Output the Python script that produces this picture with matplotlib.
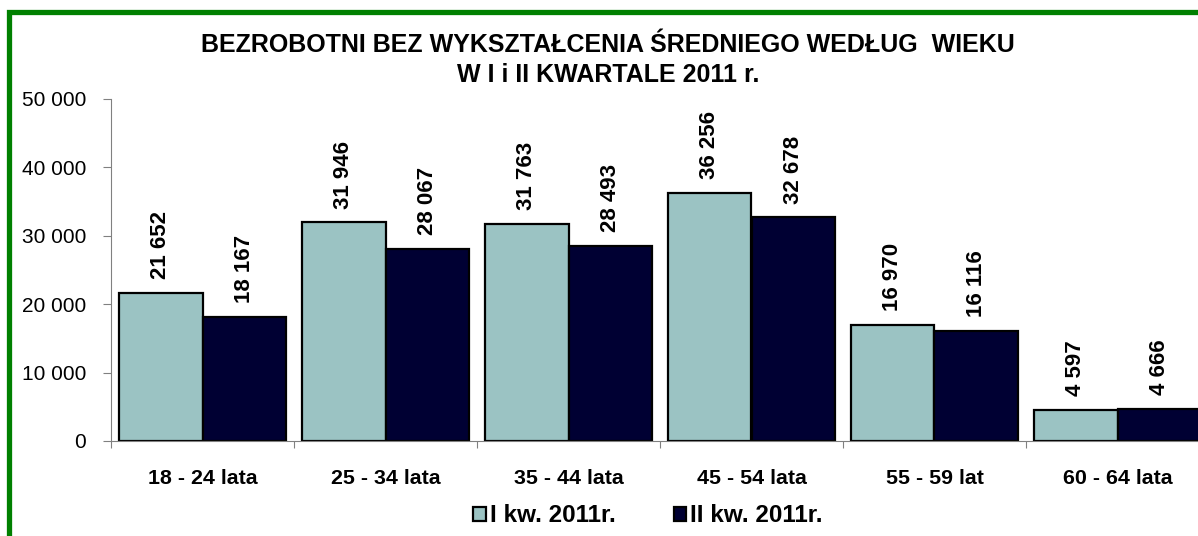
import matplotlib.pyplot as plt
import numpy as np
from matplotlib.patches import Rectangle
from matplotlib.ticker import FuncFormatter, MultipleLocator

plt.rcParams["font.family"] = ["Liberation Sans", "DejaVu Sans"]

categories = ["18 - 24 lata", "25 - 34 lata", "35 - 44 lata",
              "45 - 54 lata", "55 - 59 lat", "60 - 64 lata"]
q1_values = [21652, 31946, 31763, 36256, 16970, 4597]
q2_values = [18167, 28067, 28493, 32678, 16116, 4666]
series_names = ["I kw. 2011r.", "II kw. 2011r."]
title_lines = ["BEZROBOTNI BEZ WYKSZTAŁCENIA ŚREDNIEGO WEDŁUG  WIEKU",
               "W I i II KWARTALE 2011 r."]

light = "#9BC3C3"
dark = "#000033"

W, H = 1198, 536
fig = plt.figure(figsize=(W / 100, H / 100), dpi=100)
ax = fig.add_axes([111 / W, 1 - 441 / H, 1098 / W, 342 / H])

x = np.arange(len(categories))
bw = 0.456
b1 = ax.bar(x - bw / 2, q1_values, bw, color=light, edgecolor="black", linewidth=1.6,
            label=series_names[0])
b2 = ax.bar(x + bw / 2, q2_values, bw, color=dark, edgecolor="black", linewidth=1.6,
            label=series_names[1])


def fmt(v, _=None):
    return f"{int(v):,}".replace(",", " ")


for bars in (b1, b2):
    for rect in bars:
        ax.annotate(fmt(rect.get_height()),
                    (rect.get_x() + rect.get_width() / 2, rect.get_height()),
                    xytext=(0, 10), textcoords="offset points",
                    rotation=90, ha="center", va="bottom",
                    fontsize=16, fontweight="bold")

ax.set_xlim(-0.5, len(categories) - 0.5)
ax.set_ylim(0, 50000)
ax.yaxis.set_major_locator(MultipleLocator(10000))
ax.yaxis.set_major_formatter(FuncFormatter(fmt))
ax.tick_params(axis="y", labelsize=15, length=6, color="#808080", pad=12)
ax.set_xticks(np.arange(len(categories) + 1) - 0.5)
ax.set_xticklabels([])
ax.set_xticks(x, minor=True)
ax.set_xticklabels(categories, minor=True, fontsize=15.4, fontweight="bold")
ax.tick_params(axis="x", which="major", length=5, color="#808080")
ax.tick_params(axis="x", which="minor", length=0, pad=20)
for side in ("top", "right"):
    ax.spines[side].set_visible(False)
for side in ("left", "bottom"):
    ax.spines[side].set_color("#808080")

fig.text(608 / W, 1 - 45 / H, title_lines[0], ha="center", va="center",
         fontsize=18, fontweight="bold")
fig.text(608 / W, 1 - 75 / H, title_lines[1], ha="center", va="center",
         fontsize=18, fontweight="bold")

fig.legend(loc="center", bbox_to_anchor=(648 / W, 1 - 516 / H), ncol=2,
           frameon=False, prop={"size": 17.5, "weight": "bold"},
           handlelength=0.52, handleheight=0.52, handletextpad=0.15, columnspacing=2.4)

fig.patches.append(Rectangle((9 / W, -0.1), 1.2, (1 - 12 / H) + 0.1,
                             transform=fig.transFigure, fill=False,
                             edgecolor="#008000", linewidth=3.8))

fig.savefig("out.png", dpi=100)
